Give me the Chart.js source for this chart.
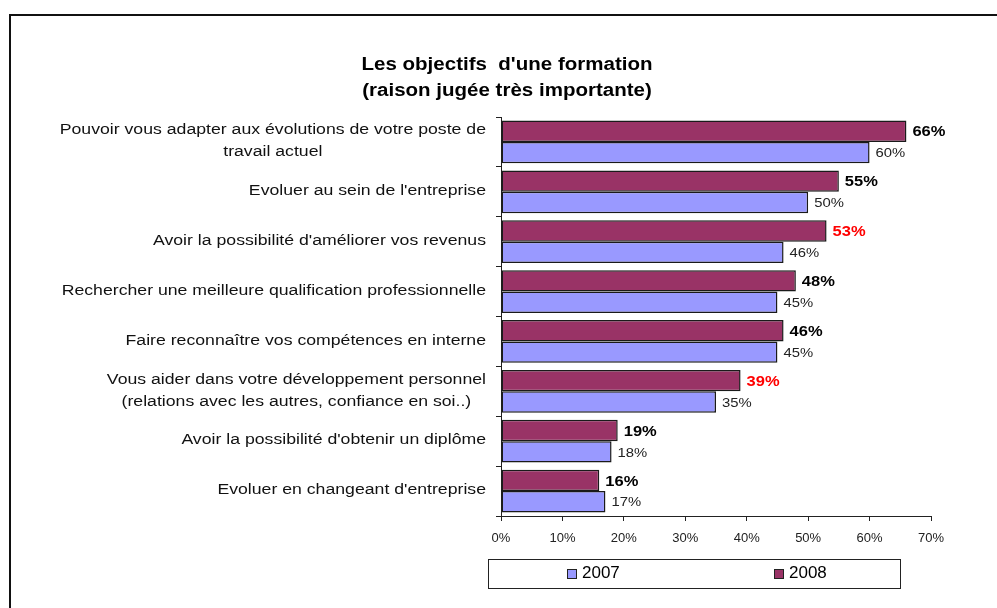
<!DOCTYPE html>
<html>
<head>
<meta charset="utf-8">
<script src="https://cdn.jsdelivr.net/npm/chart.js@4/dist/chart.umd.min.js"></script>
<style>
  html, body { margin: 0; padding: 0; background: #fff; }
  #wrap { position: relative; width: 997px; height: 608px; }
</style>
</head>
<body>
<div id="wrap"><canvas id="chart"></canvas></div>
<script>
const TITLE_LINES = ["Les objectifs  d'une formation", "(raison jugée très importante)"];

const categories = [
  ["Pouvoir vous adapter aux évolutions de votre poste de", "travail actuel"],
  "Evoluer au sein de l'entreprise",
  "Avoir la possibilité d'améliorer vos revenus",
  "Rechercher une meilleure qualification professionnelle",
  "Faire reconnaître vos compétences en interne",
  ["Vous aider dans votre développement personnel", "(relations avec les autres, confiance en soi..)"],
  "Avoir la possibilité d'obtenir un diplôme",
  "Evoluer en changeant d'entreprise",
];

const values2008 = [66, 55, 53, 48, 46, 39, 19, 16];
const values2007 = [60, 50, 46, 45, 45, 35, 18, 17];
// 2008 labels shown in red in the source
const highlight2008 = [false, false, true, false, false, true, false, false];

const seriesNames = ["2007", "2008"];
const xTickMax = 70;
const xTickStep = 10;

const COLOR_2008 = "#993366";
const COLOR_2007 = "#9999FF";
const FONT = "'Liberation Sans', Arial, sans-serif";
const SX = 1.14; // source text is horizontally stretched

function stretchText(ctx, text, x, y, align, sx) {
  ctx.save();
  ctx.translate(x, y);
  ctx.scale(sx, 1);
  ctx.textAlign = align;
  ctx.fillText(text, 0, 0);
  ctx.restore();
}

const decorPlugin = {
  id: "decor",
  beforeDraw(chart) {
    const ctx = chart.ctx;
    ctx.save();
    ctx.strokeStyle = "#111";
    ctx.lineWidth = 2;
    ctx.beginPath();
    ctx.moveTo(10, 640);
    ctx.lineTo(10, 15);
    ctx.lineTo(1010, 15);
    ctx.stroke();
    ctx.restore();
  },
  afterDraw(chart) {
    const ctx = chart.ctx;
    ctx.save();
    ctx.fillStyle = "#000";
    ctx.textBaseline = "alphabetic";

    // title
    ctx.font = "bold 18px " + FONT;
    stretchText(ctx, TITLE_LINES[0], 507, 70, "center", SX);
    stretchText(ctx, TITLE_LINES[1], 507, 96, "center", SX);

    // category labels: right-aligned block, lines centred inside it
    const yScale = chart.scales.y;
    ctx.font = "15.5px " + FONT;
    ctx.textBaseline = "middle";
    ctx.fillStyle = "#111";
    categories.forEach((label, i) => {
      const lines = Array.isArray(label) ? label : [label];
      const cy = yScale.getPixelForTick(i);
      const blockW = Math.max(...lines.map((l) => ctx.measureText(l).width)) * SX;
      const right = 486;
      const lh = 22;
      lines.forEach((line, j) => {
        const y = cy + (j - (lines.length - 1) / 2) * lh - 1;
        if (lines.length === 1) {
          stretchText(ctx, line, right, y, "right", SX);
        } else {
          stretchText(ctx, line, right - blockW / 2, y, "center", SX);
        }
      });
    });

    // value labels
    const meta08 = chart.getDatasetMeta(0);
    const meta07 = chart.getDatasetMeta(1);
    meta08.data.forEach((bar, i) => {
      ctx.font = "bold 15px " + FONT;
      ctx.fillStyle = highlight2008[i] ? "#FF0000" : "#000";
      stretchText(ctx, values2008[i] + "%", bar.x + 6, bar.y + 1, "left", 1.1);
    });
    meta07.data.forEach((bar, i) => {
      ctx.font = "13.5px " + FONT;
      ctx.fillStyle = "#222";
      stretchText(ctx, values2007[i] + "%", bar.x + 6, bar.y + 1, "left", 1.1);
    });

    // legend box
    ctx.strokeStyle = "#222";
    ctx.lineWidth = 1;
    ctx.strokeRect(488.5, 559.5, 412, 29);
    const items = [
      { name: seriesNames[0], color: COLOR_2007, x: 567 },
      { name: seriesNames[1], color: COLOR_2008, x: 774 },
    ];
    ctx.font = "17px " + FONT;
    items.forEach((it) => {
      ctx.fillStyle = it.color;
      ctx.fillRect(it.x + 0.5, 569.5, 9, 9);
      ctx.strokeRect(it.x + 0.5, 569.5, 9, 9);
      ctx.fillStyle = "#000";
      ctx.textAlign = "left";
      ctx.textBaseline = "middle";
      ctx.fillText(it.name, it.x + 15, 573);
    });
    ctx.restore();
  },
};

new Chart(document.getElementById("chart"), {
  type: "bar",
  data: {
    labels: categories,
    datasets: [
      {
        label: seriesNames[1],
        data: values2008,
        backgroundColor: COLOR_2008,
        borderColor: "#1a1a1a",
        borderWidth: 1.5,
        borderSkipped: false,
        categoryPercentage: 0.855,
        barPercentage: 1,
      },
      {
        label: seriesNames[0],
        data: values2007,
        backgroundColor: COLOR_2007,
        borderColor: "#1a1a1a",
        borderWidth: 1.5,
        borderSkipped: false,
        categoryPercentage: 0.855,
        barPercentage: 1,
      },
    ],
  },
  options: {
    indexAxis: "y",
    responsive: true,
    maintainAspectRatio: false,
    animation: false,
    layout: { padding: { top: 117, right: 66, left: 0, bottom: 0 } },
    plugins: {
      legend: { display: false },
      title: { display: false },
      tooltip: { enabled: false },
    },
    scales: {
      x: {
        min: 0,
        max: xTickMax,
        afterFit(scale) { scale.height = 608 - 516; },
        ticks: {
          stepSize: xTickStep,
          callback: (v) => v + "%",
          color: "#222",
          font: { family: FONT, size: 13 },
          padding: 10,
          maxRotation: 0,
        },
        grid: { drawOnChartArea: false, drawTicks: true, tickLength: 5, color: "#222" },
        border: { display: true, color: "#222", width: 1 },
      },
      y: {
        afterFit(scale) { scale.width = 501; },
        ticks: { display: false },
        grid: { drawOnChartArea: false, drawTicks: true, tickLength: 5, color: "#222", offset: true },
        border: { display: true, color: "#222", width: 1 },
      },
    },
  },
  plugins: [decorPlugin],
});
</script>
</body>
</html>
